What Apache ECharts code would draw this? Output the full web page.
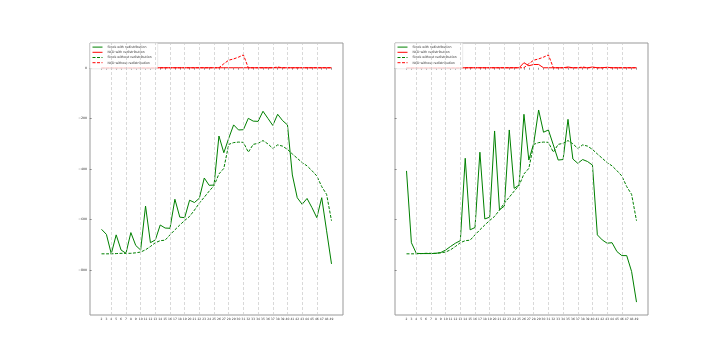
<!DOCTYPE html>
<html>
<head>
    <meta charset="UTF-8">
    <title>stock ncd</title>
    <style type="text/css">
        html, body {
            margin: 0;
            padding: 0;
            background: #fff;
        }

        #main {
            width: 720px;
            height: 360px;
        }
    </style>
    <script type="text/javascript" src="https://cdn.jsdelivr.net/npm/echarts@6/dist/echarts.min.js"></script>
</head>
<body>
<div id="main"></div>
<script type="text/javascript">
    // x values (periods)
    var categories = [2, 3, 4, 5, 6, 7, 8, 9, 10, 11, 12, 13, 14, 15, 16, 17, 18, 19, 20, 21, 22, 23, 24, 25,
        26, 27, 28, 29, 30, 31, 32, 33, 34, 35, 36, 37, 38, 39, 40, 41, 42, 43, 44, 45, 46, 47, 48, 49];
    var yTicks = [0, -200, -400, -600, -800];
    var gridX = [4, 7, 10, 13, 16, 19, 22, 25, 28, 31, 34, 37, 40, 43, 46];

    // left panel
    var stockWithLeft = [-639, -659, -736, -661, -721, -734, -652, -703, -721, -547, -692, -681, -622, -634, -635, -520,
        -591, -593, -524, -533, -516, -436, -465, -464, -270, -336, -279, -226, -246, -245, -200, -211,
        -212, -172, -200, -228, -184, -209, -226, -424, -514, -540, -517, -553, -593, -514, -645, -776];
    var ncdWithLeft = [0, 0, 0, 0, 0, 0, 0, 0, 0, 0, 0, 0, 0, 0, 0, 0,
        0, 0, 0, 0, 0, 0, 0, 0, 0, 0, 0, 0, 0, 0, 0, 0,
        0, 0, 0, 0, 0, 0, 0, 0, 0, 0, 0, 0, 0, 0, 0, 0];

    // right panel
    var stockWithRight = [-408, -692, -734, -735, -735, -735, -734, -731, -721, -707, -694, -684, -358, -641, -632, -334,
        -598, -591, -250, -562, -547, -246, -477, -464, -184, -365, -299, -167, -255, -246, -305, -365,
        -363, -204, -361, -378, -363, -371, -385, -661, -681, -694, -692, -727, -743, -743, -806, -927];
    var ncdWithRight = [0, 0, 0, 0, 0, 0, 0, 0, 0, 0, 0, 0, 0, 0, 0, 0,
        0, 0, 0, 0, 0, 0, 0, 0, 20, 8, 13, 13, 0, 0, 0, 0,
        0, 3, 0, 0, 0, 0, 3, 0, 0, 2, 0, 0, 0, 0, 0, 0];

    // same in both panels
    var stockWithout = [-736, -736, -736, -735, -734, -734, -734, -732, -729, -720, -707, -692, -684, -682, -661, -641,
        -622, -604, -588, -563, -535, -512, -488, -466, -420, -398, -303, -296, -294, -295, -334, -303,
        -299, -288, -301, -319, -305, -310, -323, -341, -358, -375, -388, -407, -428, -470, -501, -605];
    var ncdWithout = [0, 0, 0, 0, 0, 0, 0, 0, 0, 0, 0, 0, 0, 0, 0, 0,
        0, 0, 0, 0, 0, 0, 0, 0, 0, 16, 30, 35, 42, 51, 0, 0,
        0, 0, 0, 0, 3, 0, 0, 0, 0, 0, 0, 0, 0, 0, 0, 0];

    var names = ['Stock with redistribution', 'NCD with redistribution',
        'Stock without redistribution', 'NCD without redistribution'];

    function pairs(arr) {
        return categories.map(function (c, i) {
            return [c, arr[i]];
        });
    }

    var font = 'DejaVu Sans';

    function makeX(idx) {
        return {
            type: 'value',
            gridIndex: idx,
            min: -0.35,
            max: 51.35,
            axisLine: {show: false},
            axisTick: {show: true, length: 2, lineStyle: {color: '#555', width: 0.6}, customValues: categories},
            axisLabel: {
                fontSize: 3, color: '#333', fontFamily: font, margin: 2.5,
                customValues: categories, hideOverlap: false
            },
            splitLine: {show: false}
        };
    }

    function makeY(idx) {
        return {
            type: 'value',
            gridIndex: idx,
            min: -978,
            max: 98,
            axisLine: {show: false},
            axisTick: {show: true, length: 2, lineStyle: {color: '#555', width: 0.6}, customValues: yTicks},
            axisLabel: {
                show: idx === 0,
                fontSize: 3.2, color: '#333', fontFamily: font, margin: 3,
                customValues: yTicks,
                formatter: function (v) {
                    return String(v).replace('-', '\u2212');
                }
            },
            splitLine: {show: false}
        };
    }

    function makeLegend(left) {
        return {
            left: left,
            top: 43,
            orient: 'vertical',
            selectedMode: false,
            itemWidth: 10,
            itemHeight: 4,
            itemGap: 2,
            padding: [2.5, 6, 4.5, 2],
            backgroundColor: 'rgba(255,255,255,0.85)',
            borderColor: '#ddd',
            borderWidth: 0.6,
            borderRadius: 1,
            itemStyle: {opacity: 0},
            lineStyle: {width: 1},
            textStyle: {fontSize: 3.2, color: '#333', fontFamily: font},
            data: names
        };
    }

    var vlines = {
        silent: true,
        symbol: 'none',
        label: {show: false},
        animation: false,
        lineStyle: {type: [3, 2], color: '#c8c8c8', width: 0.7},
        data: gridX.map(function (v) {
            return {xAxis: v};
        })
    };

    function line(name, idx, arr, color, dashed, withGrid) {
        var s = {
            name: name,
            type: 'line',
            xAxisIndex: idx,
            yAxisIndex: idx,
            data: pairs(arr),
            symbol: 'none',
            color: color,
            lineStyle: {color: color, width: 1, type: dashed ? [3, 1.5] : 'solid'}
        };
        if (withGrid) {
            s.markLine = vlines;
        }
        return s;
    }

    var chart = echarts.init(document.getElementById('main'));
    var option = {
        animation: false,
        backgroundColor: '#fff',
        grid: [
            {left: 90, top: 43, width: 253, height: 272, show: true, borderColor: '#999', borderWidth: 1},
            {left: 395, top: 43, width: 253, height: 272, show: true, borderColor: '#999', borderWidth: 1}
        ],
        legend: [makeLegend(90), makeLegend(395)],
        xAxis: [makeX(0), makeX(1)],
        yAxis: [makeY(0), makeY(1)],
        series: [
            line(names[0], 0, stockWithLeft, '#008000', false, true),
            line(names[1], 0, ncdWithLeft, '#ff0000', false, false),
            line(names[2], 0, stockWithout, '#008000', true, false),
            line(names[3], 0, ncdWithout, '#ff0000', true, false),
            line(names[0], 1, stockWithRight, '#008000', false, true),
            line(names[1], 1, ncdWithRight, '#ff0000', false, false),
            line(names[2], 1, stockWithout, '#008000', true, false),
            line(names[3], 1, ncdWithout, '#ff0000', true, false)
        ]
    };
    chart.setOption(option);
</script>
</body>
</html>
